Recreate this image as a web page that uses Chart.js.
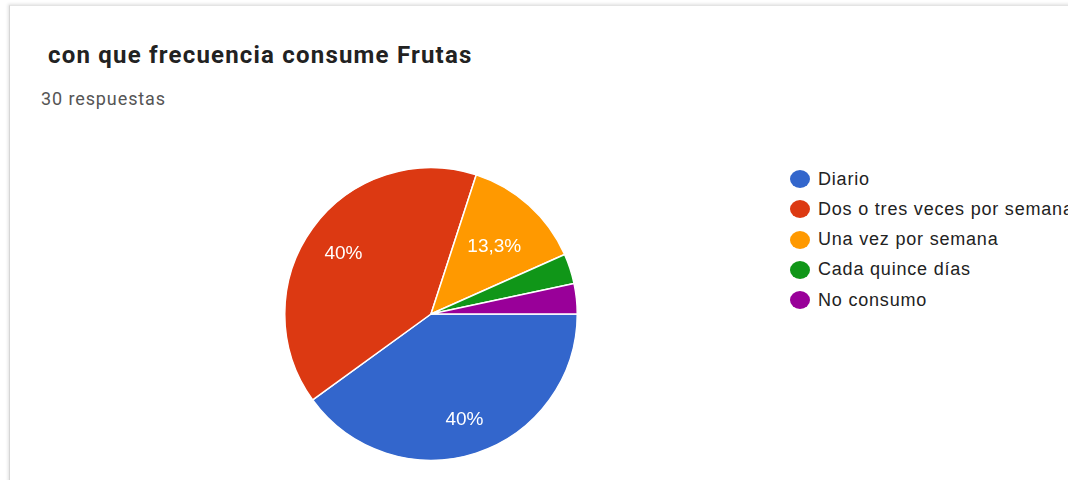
<!DOCTYPE html>
<html>
<head>
<meta charset="utf-8">
<script src="https://cdn.jsdelivr.net/npm/chart.js@4.4.1/dist/chart.umd.min.js"></script>
<style>
  html, body { margin: 0; padding: 0; background: #fff; }
  body { width: 1068px; height: 480px; position: relative; overflow: hidden; }
  .card {
    position: absolute; left: 9px; top: 5px; width: 1100px; height: 520px;
    border-left: 1px solid #d6d6d6; border-top: 1px solid #e4e4e4;
    box-shadow: -1px -1px 3px rgba(0,0,0,0.12);
  }
  .title {
    position: absolute; left: 48px; top: 41px; margin: 0;
    font-family: Roboto, sans-serif; font-weight: 700; font-size: 24px; color: #222;
    letter-spacing: 1.2px; white-space: nowrap;
  }
  .sub {
    position: absolute; left: 41px; top: 88px;
    font-family: Roboto, sans-serif; font-size: 18px; color: #555; letter-spacing: 0.9px;
  }
  #wrap { position: absolute; left: 284px; top: 167px; width: 294px; height: 294px; }
  #legend { position: absolute; left: 790px; top: 164px; margin: 0; padding: 0; list-style: none; }
  #legend li {
    height: 30.25px; display: flex; align-items: center; white-space: nowrap;
    font-family: "Liberation Sans", Arial, sans-serif; font-size: 18px; color: #222;
    letter-spacing: 0.8px;
  }
  #legend span.dot { width: 20px; height: 18px; border-radius: 50%; margin-right: 8px; flex: none; }
</style>
</head>
<body>
<div class="card"></div>
<h1 class="title">con que frecuencia consume Frutas</h1>
<div class="sub">30 respuestas</div>
<div id="wrap"><canvas id="pie"></canvas></div>
<ul id="legend"></ul>
<script>
  // ------------- Datos -------------
  const categorias = ['Diario', 'Dos o tres veces por semana', 'Una vez por semana', 'Cada quince días', 'No consumo'];
  const respuestas = [12, 12, 4, 1, 1];
  const colores    = ['#3366cc', '#dc3912', '#ff9900', '#109618', '#990099'];

  const total = respuestas.reduce((a, b) => a + b, 0);

  function fmtPct(v) {
    const p = Math.round(v / total * 1000) / 10;
    return String(p).replace('.', ',') + '%';
  }

  // etiquetas dentro de las porciones (solo las grandes)
  const pctLabels = {
    id: 'pctLabels',
    afterDatasetsDraw(chart) {
      const { ctx } = chart;
      const meta = chart.getDatasetMeta(0);
      ctx.save();
      ctx.font = '19px "Liberation Sans", Arial, sans-serif';
      ctx.fillStyle = '#fff';
      ctx.textAlign = 'center';
      ctx.textBaseline = 'middle';
      meta.data.forEach((arc, i) => {
        const frac = respuestas[i] / total;
        if (frac < 0.05) return;
        const { x, y, startAngle, endAngle, outerRadius } = arc.getProps(['x', 'y', 'startAngle', 'endAngle', 'outerRadius'], true);
        const mid = (startAngle + endAngle) / 2;
        const d = outerRadius * (0.6 + 0.35 * frac); // porciones chicas: etiqueta mas adentro
        ctx.fillText(fmtPct(respuestas[i]), x + Math.cos(mid) * d, y + Math.sin(mid) * d + 3);
      });
      ctx.restore();
    }
  };

  new Chart(document.getElementById('pie'), {
    type: 'pie',
    data: {
      labels: categorias,
      datasets: [{
        data: respuestas,
        backgroundColor: colores,
        borderColor: '#fff',
        borderWidth: 1.5
      }]
    },
    options: {
      animation: false,
      responsive: true,
      maintainAspectRatio: false,
      rotation: 90,
      layout: { padding: 0 },
      plugins: { legend: { display: false }, tooltip: { enabled: false } }
    },
    plugins: [pctLabels]
  });

  // leyenda
  const $legend = document.getElementById('legend');
  $legend.innerHTML = categorias.map((c, i) =>
    `<li><span class="dot" style="background:${colores[i]}"></span>${c}</li>`).join('');
</script>
</body>
</html>
